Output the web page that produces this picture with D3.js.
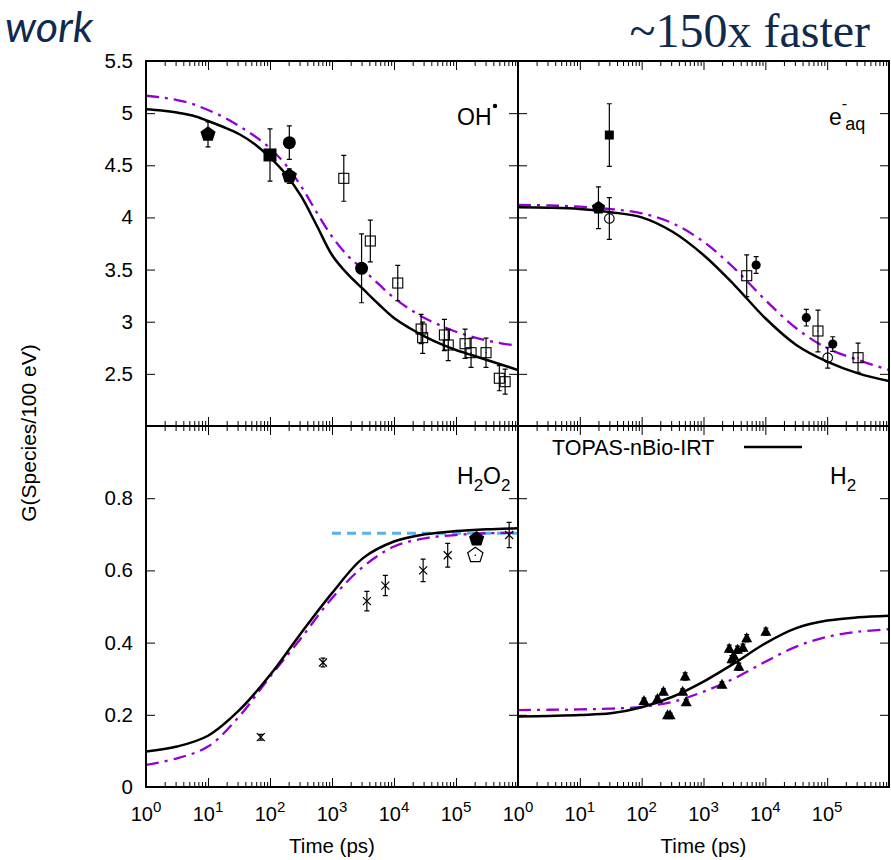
<!DOCTYPE html>
<html><head><meta charset="utf-8">
<script src="https://cdn.jsdelivr.net/npm/d3@7"></script>
<style>body{margin:0;background:#fff} svg{display:block}</style>
</head><body><svg id="c" width="891" height="860"></svg>
<script>
// ---------- data ----------
const curveTimes = [1, 3.162, 10, 31.62, 100, 316.2, 1000, 3162, 10000, 31623, 100000, 316228, 1000000];
const ohTimes = [1, 1.778, 3.162, 5.623, 10, 17.78, 31.62, 56.23, 100, 177.8, 316.2, 562.3, 1000, 1778, 3162,
                 5623, 10000, 17783, 31623, 56234, 100000, 177828, 316228, 562341, 1000000];
const ohIRT   = [5.037, 5.025, 5.006, 4.977, 4.925, 4.867, 4.80, 4.704, 4.575, 4.417, 4.206, 3.927, 3.640,
                 3.458, 3.314, 3.170, 3.036, 2.940, 2.857, 2.787, 2.729, 2.681, 2.633, 2.585, 2.537];
const ohDash  = [5.167, 5.150, 5.126, 5.088, 5.030, 4.963, 4.877, 4.781, 4.663, 4.508, 4.301, 4.052, 3.817,
                 3.635, 3.501, 3.362, 3.228, 3.122, 3.033, 2.964, 2.904, 2.858, 2.820, 2.791, 2.770];
const eaqIRT  = [4.097, 4.093, 4.081, 4.05, 4.001, 3.863, 3.640, 3.352, 3.033, 2.777, 2.617, 2.505, 2.432];
const eaqDash = [4.119, 4.115, 4.103, 4.08, 4.04, 3.944, 3.767, 3.512, 3.208, 2.937, 2.746, 2.633, 2.537];
const h2o2IRT = [0.098, 0.112, 0.142, 0.212, 0.310, 0.426, 0.537, 0.634, 0.680, 0.700, 0.709, 0.714, 0.717];
const h2o2Dash= [0.061, 0.0795, 0.112, 0.195, 0.3055, 0.412, 0.523, 0.610, 0.666, 0.689, 0.698, 0.703, 0.704];
const h2IRT   = [0.195, 0.197, 0.1995, 0.204, 0.221, 0.250, 0.292, 0.343, 0.398, 0.440, 0.461, 0.470, 0.4745];
const h2Dash  = [0.213, 0.214, 0.215, 0.217, 0.222, 0.236, 0.264, 0.301, 0.347, 0.389, 0.416, 0.430, 0.437];

// experimental points: [time ps, G, error]
const ohPentF   = [[10, 4.797, 0.12], [205, 4.397, 0.07]];
const ohSquareF = [[100, 4.599, 0.25]];
const ohCircleF = [[205, 4.717, 0.16], [3000, 3.512, 0.33]];
const ohSquareO = [[1550, 4.375, 0.22], [4150, 3.774, 0.2], [11500, 3.371, 0.17], [27400, 2.93, 0.14],
                   [29000, 2.847, 0.15], [65000, 2.873, 0.15], [75000, 2.777, 0.15], [140000, 2.789, 0.14],
                   [175000, 2.703, 0.14], [305000, 2.703, 0.14], [500000, 2.458, 0.12], [620000, 2.425, 0.12]];
const eaqSquareF = [[30, 4.79, 0.3]];
const eaqPentF   = [[20, 4.093, 0.2]];
const eaqCircleO = [[30, 3.99, 0.2], [102000, 2.655, 0.1]];
const eaqSquareO = [[5000, 3.441, 0.2], [71000, 2.911, 0.2], [316000, 2.655, 0.14]];
const eaqCircleF = [[7100, 3.544, 0.08], [46000, 3.039, 0.08], [123000, 2.786, 0.07]];
const h2o2Cross  = [[71, 0.138, 0.008], [716, 0.345, 0.012], [3650, 0.515, 0.027], [7250, 0.558, 0.028],
                    [29500, 0.600, 0.031], [73500, 0.642, 0.033], [720000, 0.698, 0.035]];
const h2o2PentF  = [[215000, 0.687, 0]];
const h2o2PentO  = [[205000, 0.642, 0]];
const h2o2Ref    = [[1000, 0.703], [1000000, 0.703]];
const h2Tri = [[109, 0.238, 0.008], [180, 0.244, 0.008], [225, 0.264, 0.008], [262, 0.199, 0.006],
               [288, 0.199, 0.006], [460, 0.264, 0.008], [505, 0.306, 0.01], [525, 0.235, 0.008],
               [1990, 0.283, 0.008], [2610, 0.383, 0.01], [2880, 0.354, 0.01], [3090, 0.363, 0.01],
               [3550, 0.380, 0.01], [3730, 0.333, 0.01], [4350, 0.386, 0.01], [5000, 0.412, 0.01],
               [10200, 0.430, 0.01]];

const topYTicks = [2.5, 3, 3.5, 4, 4.5, 5, 5.5];
const topYLabels = ["2.5", "3", "3.5", "4", "4.5", "5", "5.5"];
const botYTicks = [0, 0.2, 0.4, 0.6, 0.8];
const botYLabels = ["0", "0.2", "0.4", "0.6", "0.8"];
const xExponents = [0, 1, 2, 3, 4, 5];
const xTitle = "Time (ps)";
const yTitle = "G(Species/100 eV)";
const legendText = "TOPAS-nBio-IRT";

// ---------- drawing ----------
const svg = d3.select("#c");
const FONT = "'Liberation Sans', Arial, Helvetica, sans-serif";
const PURPLE = "#9400d3", BLUE = "#56b4e9", NAVY = "#0f2a4d";

const panels = [
  {id: "oh",   xr: [146, 518], yr: [61, 426],  yd: [2, 5.5], t: ohTimes,    irt: ohIRT,   dash: ohDash,   yt: [2,2.5,3,3.5,4,4.5,5,5.5]},
  {id: "eaq",  xr: [518, 889], yr: [61, 426],  yd: [2, 5.5], t: curveTimes, irt: eaqIRT,  dash: eaqDash,  yt: [2,2.5,3,3.5,4,4.5,5,5.5]},
  {id: "h2o2", xr: [146, 518], yr: [426, 787], yd: [0, 1],   t: curveTimes, irt: h2o2IRT, dash: h2o2Dash, yt: [0,0.2,0.4,0.6,0.8,1]},
  {id: "h2",   xr: [518, 889], yr: [426, 787], yd: [0, 1],   t: curveTimes, irt: h2IRT,   dash: h2Dash,   yt: [0,0.2,0.4,0.6,0.8,1]}
];

const majorX = d3.range(0, 7).map(e => Math.pow(10, e));
const minorX = [];
for (let e = 0; e < 6; e++) for (let m = 2; m <= 9; m++) minorX.push(m * Math.pow(10, e));

function pent(r) {
  return d3.range(5).map(k => { const a = -Math.PI/2 + k*2*Math.PI/5; return [r*Math.cos(a), r*Math.sin(a)]; });
}

function marker(g, type, cx, cy) {
  const s = g.append("g").attr("transform", `translate(${cx},${cy})`);
  switch (type) {
    case "pentF": s.append("polygon").attr("points", pent(8).join(" ")).attr("fill", "#000"); break;
    case "pentFs": s.append("polygon").attr("points", pent(7).join(" ")).attr("fill", "#000"); break;
    case "pentO": s.append("polygon").attr("points", pent(8).join(" ")).attr("fill", "#fff").attr("stroke", "#000").attr("stroke-width", 1.2);
      s.append("circle").attr("r", 0.8).attr("fill", "#000"); break;
    case "sqF": s.append("rect").attr("x", -6.5).attr("y", -6.5).attr("width", 13).attr("height", 13).attr("fill", "#000"); break;
    case "sqFs": s.append("rect").attr("x", -4.5).attr("y", -4.5).attr("width", 9).attr("height", 9).attr("fill", "#000"); break;
    case "sqO": s.append("rect").attr("x", -5).attr("y", -5).attr("width", 10).attr("height", 10).attr("fill", "none").attr("stroke", "#000").attr("stroke-width", 1.1);
      s.append("circle").attr("r", 0.6).attr("fill", "#000"); break;
    case "cirF": s.append("circle").attr("r", 6.5).attr("fill", "#000"); break;
    case "cirFs": s.append("circle").attr("r", 4.6).attr("fill", "#000"); break;
    case "cirO": s.append("circle").attr("r", 4.8).attr("fill", "none").attr("stroke", "#000").attr("stroke-width", 1.1);
      s.append("circle").attr("r", 0.6).attr("fill", "#000"); break;
    case "cross": s.append("path").attr("d", "M-4,-4L4,4M-4,4L4,-4").attr("stroke", "#000").attr("stroke-width", 1.2); break;
    case "tri": s.append("polygon").attr("points", "0,-6 5.5,4 -5.5,4").attr("fill", "#000"); break;
  }
}

function errBar(g, x, y, t, v, e) {
  if (!e) return;
  const X = x(t), y1 = y(v - e), y2 = y(v + e);
  g.append("path").attr("d", `M${X},${y1}V${y2}M${X-2.5},${y1}H${X+2.5}M${X-2.5},${y2}H${X+2.5}`)
    .attr("stroke", "#000").attr("stroke-width", 1.2).attr("fill", "none");
}

const pointSets = {
  oh: [[ohSquareO, "sqO"], [ohPentF, "pentF"], [ohSquareF, "sqF"], [ohCircleF, "cirF"]],
  eaq: [[eaqSquareO, "sqO"], [eaqCircleO, "cirO"], [eaqCircleF, "cirFs"], [eaqPentF, "pentFs"], [eaqSquareF, "sqFs"]],
  h2o2: [[h2o2Cross, "cross"], [h2o2PentF, "pentF"], [h2o2PentO, "pentO"]],
  h2: [[h2Tri, "tri"]]
};

panels.forEach(p => {
  const x = d3.scaleLog().domain([1, 1e6]).range(p.xr);
  const y = d3.scaleLinear().domain(p.yd).range([p.yr[1], p.yr[0]]);
  const g = svg.append("g");
  const clipId = "clip-" + p.id;
  svg.append("clipPath").attr("id", clipId).append("rect")
    .attr("x", p.xr[0]).attr("y", p.yr[0]).attr("width", p.xr[1] - p.xr[0]).attr("height", p.yr[1] - p.yr[0]);

  // ticks (gnuplot style: inward on all four sides)
  [[d3.axisBottom(x), `translate(0,${p.yr[1]})`], [d3.axisTop(x), `translate(0,${p.yr[0]})`]].forEach(([ax, tr]) => {
    g.append("g").attr("transform", tr).call(ax.tickValues(majorX).tickSizeInner(-9).tickSizeOuter(0).tickFormat(""))
      .call(s => s.select(".domain").remove()).selectAll("line").attr("stroke-width", 1);
  });
  [[d3.axisBottom(x), `translate(0,${p.yr[1]})`], [d3.axisTop(x), `translate(0,${p.yr[0]})`]].forEach(([ax, tr]) => {
    g.append("g").attr("transform", tr).call(ax.tickValues(minorX).tickSizeInner(-5).tickSizeOuter(0).tickFormat(""))
      .call(s => s.select(".domain").remove()).selectAll("line").attr("stroke-width", 1);
  });
  [[d3.axisLeft(y), `translate(${p.xr[0]},0)`], [d3.axisRight(y), `translate(${p.xr[1]},0)`]].forEach(([ax, tr]) => {
    g.append("g").attr("transform", tr).call(ax.tickValues(p.yt).tickSizeInner(-9).tickSizeOuter(0).tickFormat(""))
      .call(s => s.select(".domain").remove()).selectAll("line").attr("stroke-width", 1);
  });

  // curves
  const line = d3.line().x(d => x(d[0])).y(d => y(d[1])).curve(d3.curveCatmullRom.alpha(0.5));
  const cg = g.append("g").attr("clip-path", `url(#${clipId})`);
  if (p.id === "h2o2") {
    cg.append("path").attr("d", d3.line().x(d => x(d[0])).y(d => y(d[1]))(h2o2Ref))
      .attr("fill", "none").attr("stroke", BLUE).attr("stroke-width", 3).attr("stroke-dasharray", "9,6");
  }
  cg.append("path").attr("d", line(p.t.map((t, i) => [t, p.dash[i]])))
    .attr("fill", "none").attr("stroke", PURPLE).attr("stroke-width", 2.3).attr("stroke-dasharray", "13,6,3,6");
  cg.append("path").attr("d", line(p.t.map((t, i) => [t, p.irt[i]])))
    .attr("fill", "none").attr("stroke", "#000").attr("stroke-width", 2.5);

  // points
  const pg = g.append("g");
  pointSets[p.id].forEach(([arr, type]) => {
    arr.forEach(d => { errBar(pg, x, y, d[0], d[1], d[2]); marker(pg, type, x(d[0]), y(d[1])); });
  });

  // frame
  g.append("rect").attr("x", p.xr[0]).attr("y", p.yr[0]).attr("width", p.xr[1] - p.xr[0]).attr("height", p.yr[1] - p.yr[0])
    .attr("fill", "none").attr("stroke", "#000").attr("stroke-width", 2);

  // labels
  if (p.xr[0] === 146) {
    const tv = p.yr[0] === 61 ? topYTicks : botYTicks;
    const tl = p.yr[0] === 61 ? topYLabels : botYLabels;
    tv.forEach((v, i) => {
      svg.append("text").attr("x", 133).attr("y", y(v) + 7).attr("text-anchor", "end")
        .attr("font-family", FONT).attr("font-size", 20.5).attr("fill", "#000").text(tl[i]);
    });
  }
  if (p.yr[0] === 426) {
    xExponents.forEach(e => {
      const t = svg.append("text").attr("x", x(Math.pow(10, e))).attr("y", 821).attr("text-anchor", "middle")
        .attr("font-family", FONT).attr("font-size", 20).attr("fill", "#000");
      t.append("tspan").text("10");
      t.append("tspan").attr("dy", -9).attr("font-size", 15).text(e);
    });
    svg.append("text").attr("x", (p.xr[0] + p.xr[1]) / 2).attr("y", 853).attr("text-anchor", "middle")
      .attr("font-family", FONT).attr("font-size", 20.5).attr("fill", "#000").text(xTitle);
  }
});

// y axis title
svg.append("text").attr("transform", "translate(36,433) rotate(-90)").attr("text-anchor", "middle")
  .attr("font-family", FONT).attr("font-size", 21).attr("fill", "#000").text(yTitle);

// panel labels
function lab(xp, yp) { return svg.append("text").attr("x", xp).attr("y", yp).attr("font-family", FONT).attr("font-size", 23).attr("fill", "#000"); }
lab(457, 125).text("OH");
svg.append("circle").attr("cx", 495).attr("cy", 106).attr("r", 2.2).attr("fill", "#000");
const eq = lab(829, 125);
eq.append("tspan").text("e");
eq.append("tspan").attr("dy", -16).attr("font-size", 16).text("-");
eq.append("tspan").attr("dy", 21).attr("dx", -2).attr("font-size", 18).text("aq");
const hh = lab(457, 484);
hh.append("tspan").text("H");
hh.append("tspan").attr("dy", 7).attr("font-size", 17).text("2");
hh.append("tspan").attr("dy", -7).text("O");
hh.append("tspan").attr("dy", 7).attr("font-size", 17).text("2");
const h2l = lab(830, 484);
h2l.append("tspan").text("H");
h2l.append("tspan").attr("dy", 7).attr("font-size", 17).text("2");

// legend
svg.append("text").attr("x", 552).attr("y", 455).attr("font-family", FONT).attr("font-size", 21.5).attr("fill", "#000").text(legendText);
svg.append("line").attr("x1", 744).attr("x2", 802).attr("y1", 447).attr("y2", 447).attr("stroke", "#000").attr("stroke-width", 2.5);

// slide texts
svg.append("text").attr("x", 5).attr("y", 42).attr("font-family", "Lato, 'Open Sans', sans-serif").attr("font-style", "italic")
  .attr("font-size", 43).attr("fill", NAVY).text("work");
svg.append("text").attr("x", 870).attr("y", 47).attr("text-anchor", "end").attr("font-family", "'Liberation Serif', 'Times New Roman', serif")
  .attr("font-size", 48).attr("fill", NAVY).text("~150x faster");
</script></body></html>
